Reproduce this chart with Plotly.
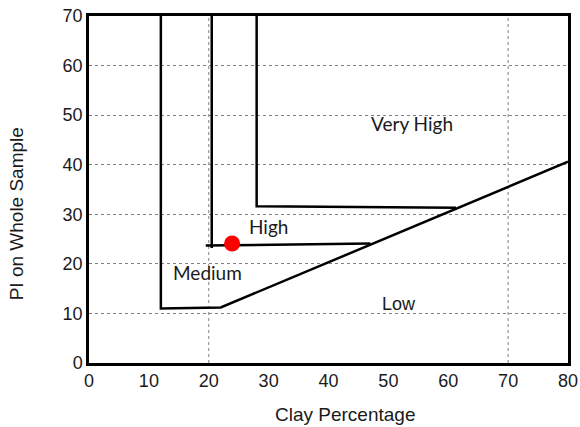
import plotly.graph_objects as go

# Boundary lines (Clay %, PI)
medium_x = [12, 12, 22, 80]
medium_y = [70, 11.0, 11.2, 40.6]
high_vert_x = [20.5, 20.5]
high_vert_y = [70, 23.2]
high_horiz_x = [19.5, 47]
high_horiz_y = [23.7, 24.1]
vhigh_x = [28, 28, 61.3]
vhigh_y = [70, 31.6, 31.3]

sample_x = [23.9]
sample_y = [24.1]

vgrid_x = [20, 70]

labels = ["Very High", "High", "Medium", "Low"]
label_x = [53.9, 29.9, 19.8, 51.8]
label_y = [48.4, 27.5, 18.2, 12.0]
label_fonts = ["Lato", "Lato", "Lato", "Liberation Sans"]
label_sizes = [19, 19, 19, 18]

x_ticks = list(range(0, 81, 10))
y_ticks = list(range(0, 71, 10))

fig = go.Figure()
for gx in vgrid_x:
    fig.add_trace(go.Scatter(x=[gx, gx], y=[0, 70], mode="lines",
                             line=dict(color="#808080", width=1, dash="dot"),
                             hoverinfo="skip", showlegend=False))

line_style = dict(color="black", width=2.5)
for xs, ys in [(medium_x, medium_y), (high_vert_x, high_vert_y),
               (high_horiz_x, high_horiz_y), (vhigh_x, vhigh_y)]:
    fig.add_trace(go.Scatter(x=xs, y=ys, mode="lines", line=line_style,
                             showlegend=False))

fig.add_trace(go.Scatter(x=sample_x, y=sample_y, mode="markers",
                         marker=dict(color="#ff0000", size=16), showlegend=False))

for t, lx, ly, f, s in zip(labels, label_x, label_y, label_fonts, label_sizes):
    fig.add_annotation(x=lx, y=ly, text=t, showarrow=False,
                       font=dict(family=f, size=s, color="#1a1a1a"))

title_font = dict(family="Liberation Sans, Arial", size=19, color="#1a1a1a")
fig.add_annotation(xref="paper", yref="paper", x=0.534, y=-0.147, text="Clay Percentage",
                   showarrow=False, xanchor="center", yanchor="middle", font=title_font)
fig.add_annotation(xref="paper", yref="paper", x=-0.152, y=0.429, text="PI on Whole Sample",
                   showarrow=False, xanchor="center", yanchor="middle", textangle=-90,
                   font=title_font)

axis_common = dict(showline=True, linecolor="black", linewidth=2.5, mirror=True,
                   ticks="", zeroline=False, automargin=False,
                   tickfont=dict(family="Liberation Sans, Arial", size=18, color="#1a1a1a"))
fig.update_xaxes(range=[0, 80], tickvals=x_ticks, showgrid=False, **axis_common)
fig.update_yaxes(range=[0, 70], tickvals=y_ticks, showgrid=True,
                 gridcolor="#808080", griddash="dot", gridwidth=1, **axis_common)
fig.update_layout(width=580, height=427, plot_bgcolor="white", paper_bgcolor="white",
                  margin=dict(l=89, r=12, t=16, b=64, autoexpand=False))
fig.write_html("out.html", config={"displayModeBar": False},
               post_script="document.body.style.margin='0';")
